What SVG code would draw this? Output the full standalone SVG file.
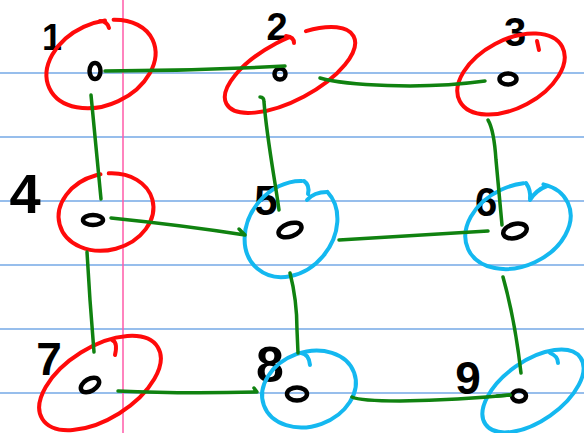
<svg xmlns="http://www.w3.org/2000/svg" width="584" height="433" viewBox="0 0 584 433">
<style>
.rule{stroke:#74a9e6;stroke-width:1.5}
.margin{stroke:#ff5aa8;stroke-width:1.5}
.lbl{font-family:"Liberation Sans",Arial,sans-serif;fill:#000;text-anchor:middle;font-weight:bold}
.red{fill:none;stroke:#ff0a0a;stroke-width:4;stroke-linecap:round}
.blue{fill:none;stroke:#14b8f0;stroke-width:4;stroke-linecap:round}
.mark{fill:none;stroke:#000;stroke-width:4.5}
.edge{fill:none;stroke:#108210;stroke-width:3.5;stroke-linecap:round;stroke-linejoin:round}
</style>
<rect width="584" height="433" fill="#fff"/>
<g id="paper">
<line class="rule" x1="0" y1="73" x2="584" y2="73"/>
<line class="rule" x1="0" y1="137" x2="584" y2="137"/>
<line class="rule" x1="0" y1="201" x2="584" y2="201"/>
<line class="rule" x1="0" y1="265" x2="584" y2="265"/>
<line class="rule" x1="0" y1="329" x2="584" y2="329"/>
<line class="rule" x1="0" y1="393" x2="584" y2="393"/>
<line class="margin" x1="123" y1="0" x2="123" y2="433"/>
</g>
<g id="node1">
<text class="lbl" x="52" y="50" font-size="36">1</text>
<ellipse class="red" cx="101" cy="64" rx="57" ry="41" transform="rotate(-25 101 64)" pathLength="360" stroke-dasharray="350 10" stroke-dashoffset="54"/>
<path class="red" d="M100,21 Q107,21 109,28"/>
<ellipse class="mark" cx="95" cy="71" rx="5.5" ry="8"/>
</g>
<g id="node2">
<text class="lbl" x="277" y="40" font-size="38">2</text>
<ellipse class="red" cx="290" cy="70" rx="72" ry="30" transform="rotate(-28 290 70)" pathLength="360" stroke-dasharray="341 19" stroke-dashoffset="55"/>
<path class="red" d="M286,36 Q294,37 294,43"/>
<ellipse class="mark" cx="280" cy="74" rx="5.5" ry="5.5" stroke-width="6"/>
</g>
<g id="node3">
<text class="lbl" x="515" y="46" font-size="40">3</text>
<ellipse class="red" cx="511" cy="74" rx="58" ry="34" transform="rotate(-28 511 74)"/>
<path class="red" d="M537,41 L539,50"/>
<ellipse class="mark" cx="508" cy="79" rx="8.5" ry="5.5"/>
</g>
<g id="node4">
<text class="lbl" x="25" y="213" font-size="56">4</text>
<ellipse class="red" cx="106" cy="212" rx="48" ry="38" transform="rotate(-15 106 212)" pathLength="360" stroke-dasharray="349 11" stroke-dashoffset="73"/>
<ellipse class="mark" cx="93" cy="220" rx="10" ry="5"/>
</g>
<g id="node5">
<text class="lbl" x="266" y="215" font-size="42">5</text>
<ellipse class="blue" cx="291" cy="229" rx="52" ry="42" transform="rotate(-50 291 229)" pathLength="360" stroke-dasharray="325 35" stroke-dashoffset="355"/>
<path class="blue" d="M304,181 Q310,185 308,194 M327,192 Q314,192 307,200"/>
<ellipse class="mark" cx="290" cy="230" rx="12" ry="6.5" transform="rotate(-20 290 230)"/>
</g>
<g id="node6">
<text class="lbl" x="486" y="216" font-size="40">6</text>
<ellipse class="blue" cx="518" cy="226" rx="55" ry="40" transform="rotate(-25 518 226)" pathLength="360" stroke-dasharray="336 24" stroke-dashoffset="38"/>
<path class="blue" d="M526,183 Q531,190 530,199 M547,186 Q536,190 530,200"/>
<ellipse class="mark" cx="515" cy="231" rx="12" ry="7" transform="rotate(-15 515 231)"/>
</g>
<g id="node7">
<text class="lbl" x="49" y="375" font-size="46">7</text>
<ellipse class="red" cx="100" cy="383" rx="68" ry="36" transform="rotate(-32 100 383)"/>
<path class="red" d="M112,340 Q118,342 115,355"/>
<ellipse class="mark" cx="90" cy="385" rx="10" ry="6" transform="rotate(-30 90 385)"/>
</g>
<g id="node8">
<text class="lbl" x="270" y="382" font-size="50">8</text>
<ellipse class="blue" cx="309" cy="389" rx="48" ry="37" transform="rotate(-20 309 389)"/>
<path class="blue" d="M301,353 Q309,354 310,365"/>
<ellipse class="mark" cx="297" cy="394" rx="10" ry="6.5"/>
</g>
<g id="node9">
<text class="lbl" x="468" y="394" font-size="46">9</text>
<ellipse class="blue" cx="533" cy="391" rx="58" ry="30" transform="rotate(-35 533 391)"/>
<path class="blue" d="M550,353 Q558,356 558,363"/>
<ellipse class="mark" cx="519" cy="396" rx="7" ry="5.5"/>
</g>
<g id="connectors">
<path class="edge" d="M105,71 Q195,71 285,66"/>
<path class="edge" d="M320,78 C345,85 420,90 485,81"/>
<path class="edge" d="M91,95 C95,140 98,170 101,199"/>
<path class="edge" d="M260,97 Q264,97 264,102 C267,140 275,180 279,210"/>
<path class="edge" d="M488,120 Q494,130 496,160 L502,225"/>
<path class="edge" d="M111,218 C150,222 200,228 245,235 M239,229 L245,235"/>
<path class="edge" d="M339,240 L488,231"/>
<path class="edge" d="M87,252 L90,300 L94,352"/>
<path class="edge" d="M290,273 Q297,300 297,330 L298,353"/>
<path class="edge" d="M503,277 Q515,320 521,373"/>
<path class="edge" d="M118,391 C160,393 220,393 257,392 L254,388"/>
<path class="edge" d="M352,397 Q360,401 400,401 Q460,400 510,395"/>
<path class="edge" d="M497,396 L510,395" stroke-width="5.5"/>
</g>
</svg>
